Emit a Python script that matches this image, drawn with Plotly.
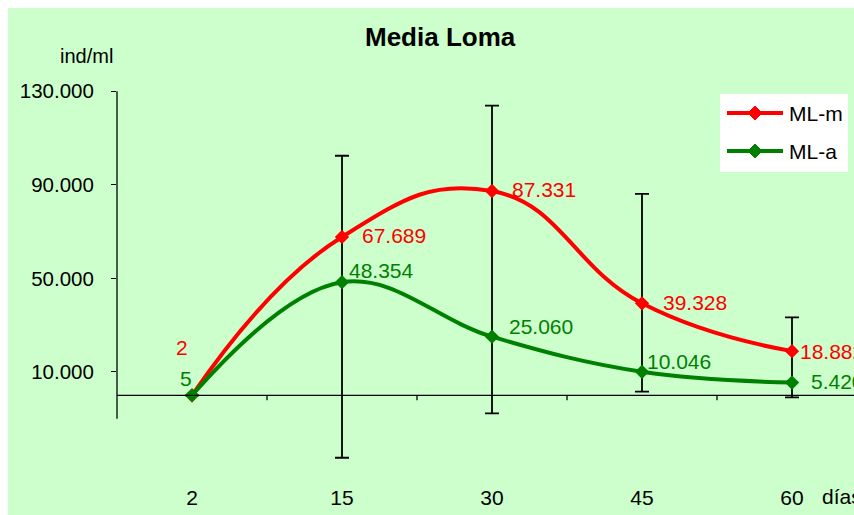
import plotly.graph_objects as go

# ---------------- data ----------------
dias = ["2", "15", "30", "45", "60"]
ml_m = [2, 67689, 87331, 39328, 18882]
ml_a = [5, 48354, 25060, 10046, 5420]
ml_m_labels = ["2", "67.689", "87.331", "39.328", "18.882"]
ml_a_labels = ["5", "48.354", "25.060", "10.046", "5.420"]
# error bar extents (top / bottom values)
err_top = [None, 102400, 123800, 86100, 33350]
err_bottom = [None, -26700, -7700, 1540, -850]
y_tickvals = [10000, 50000, 90000, 130000]
y_ticktext = ["10.000", "50.000", "90.000", "130.000"]

# ---------------- style / layout ----------------
OFF = 8                                  # page body margin
W, H = 854 - OFF, 515 - OFF
L, R, T, B = 117 - OFF, W, 60 - OFF, 481 - OFF   # plot area (figure px)
BG = "#CCFFCC"
RED = "#FF0000"
GREEN = "#008000"
FONT = "Liberation Sans, Arial, sans-serif"
CAT_W = 150.0                           # px per category
YPX = 427.5                             # value per px
ZERO_PX = 395.3 - OFF

x_idx = list(range(len(dias)))
x_range = [-0.5, -0.5 + (R - L) / CAT_W]
y_range = [-(B - ZERO_PX) * YPX, (ZERO_PX - T) * YPX]


def px(xp):
    """page pixel x -> paper"""
    return (xp - OFF - L) / (R - L)


def py(yp):
    """page pixel y -> paper"""
    return (B - (yp - OFF)) / (B - T)


plus = [0 if t is None else t - v for t, v in zip(err_top, ml_m)]
minus = [0 if b is None else v - b for b, v in zip(err_bottom, ml_m)]

fig = go.Figure()
fig.add_trace(go.Scatter(
    x=x_idx, y=ml_m, mode="lines+markers", name="ML-m",
    line=dict(color=RED, width=4, shape="spline", smoothing=1.3),
    marker=dict(symbol="diamond", size=11, color=RED),
    error_y=dict(type="data", symmetric=False, array=plus, arrayminus=minus,
                 color="black", thickness=1.8, width=7),
    cliponaxis=False, hoverinfo="skip",
))
fig.add_trace(go.Scatter(
    x=x_idx, y=ml_a, mode="lines+markers", name="ML-a",
    line=dict(color=GREEN, width=4, shape="spline", smoothing=1.1),
    marker=dict(symbol="diamond", size=11, color=GREEN),
    cliponaxis=False, hoverinfo="skip",
))

shapes = []
ann = []

# axes lines
shapes.append(dict(type="line", xref="paper", yref="y", x0=0, x1=0,
                   y0=-10000, y1=130000, line=dict(color="black", width=1.3)))
shapes.append(dict(type="line", xref="paper", yref="y", x0=0, x1=1,
                   y0=0, y1=0, line=dict(color="black", width=1.3)))
# category boundary ticks on x axis (pointing down, ~5px)
for i in range(len(dias) - 1):
    shapes.append(dict(type="line", xref="x", yref="y", x0=i + 0.5, x1=i + 0.5,
                       y0=0, y1=-5 * YPX, line=dict(color="black", width=1.3)))

# data labels
LF = 21
m_off = [(-10, 48, "center"), (18, 1, "left"), (18, 2, "left"), (19, 1, "left"), (6, 0, "left")]
a_off = [(-6, 17, "center"), (5, 12, "left"), (15, 10, "left"), (3, 10, "left"), (17, 1, "left")]
for i, (v, t) in enumerate(zip(ml_m, ml_m_labels)):
    dx, dy, xa = m_off[i]
    ann.append(dict(x=x_idx[i], y=v, xref="x", yref="y", text=t, showarrow=False,
                    xanchor=xa, yanchor="middle", xshift=dx, yshift=dy,
                    font=dict(color=RED, size=LF, family=FONT)))
for i, (v, t) in enumerate(zip(ml_a, ml_a_labels)):
    dx, dy, xa = a_off[i]
    ann.append(dict(x=x_idx[i], y=v, xref="x", yref="y", text=t, showarrow=False,
                    xanchor=xa, yanchor="middle", xshift=dx, yshift=dy,
                    font=dict(color=GREEN, size=LF, family=FONT)))

# title, unit, x-axis label
ann.append(dict(x=px(440.5), y=py(37), xref="paper", yref="paper", text="<b>Media Loma</b>",
                showarrow=False, xanchor="center", yanchor="middle",
                font=dict(size=26, color="black", family=FONT)))
ann.append(dict(x=px(58), y=py(56), xref="paper", yref="paper", text="ind/ml",
                showarrow=False, xanchor="left", yanchor="middle",
                font=dict(size=20, color="black", family=FONT)))
ann.append(dict(x=px(820), y=py(497), xref="paper", yref="paper", text="días",
                showarrow=False, xanchor="left", yanchor="middle",
                font=dict(size=LF, color="black", family=FONT)))

# custom legend
shapes.append(dict(type="rect", xref="paper", yref="paper",
                   x0=px(720), x1=px(848), y0=py(172), y1=py(94),
                   fillcolor="white", line=dict(width=0), layer="above"))
for name, col, yy in (("ML-m", RED, 113), ("ML-a", GREEN, 151)):
    shapes.append(dict(type="line", xref="paper", yref="paper",
                       x0=px(727), x1=px(783), y0=py(yy), y1=py(yy),
                       line=dict(color=col, width=4), layer="above"))
    cx, hw, hh = 755, 7, 7
    path = "M {} {} L {} {} L {} {} L {} {} Z".format(
        px(cx - hw), py(yy), px(cx), py(yy - hh), px(cx + hw), py(yy), px(cx), py(yy + hh))
    shapes.append(dict(type="path", xref="paper", yref="paper", path=path,
                       fillcolor=col, line=dict(color=col, width=1), layer="above"))
    ann.append(dict(x=px(787), y=py(yy), xref="paper", yref="paper", text=name,
                    showarrow=False, xanchor="left", yanchor="middle",
                    font=dict(size=LF, color="black", family=FONT)))

fig.update_layout(
    width=W, height=H,
    margin=dict(l=L, r=W - R, t=T, b=H - B),
    paper_bgcolor=BG, plot_bgcolor=BG,
    showlegend=False,
    font=dict(family=FONT, size=LF, color="black"),
    xaxis=dict(range=x_range, tickvals=x_idx, ticktext=dias, showgrid=False,
               zeroline=False, showline=False, ticks="", ticklabelstandoff=2,
               tickfont=dict(size=LF)),
    yaxis=dict(range=y_range, tickvals=y_tickvals, ticktext=y_ticktext,
               showgrid=False, zeroline=False, showline=False,
               ticks="outside", ticklen=5, tickcolor="black", tickwidth=1.3,
               ticklabelstandoff=13, tickfont=dict(size=20.5)),
    shapes=shapes, annotations=ann,
)

fig.write_html(
    "out.html",
    config={"displayModeBar": False},
    post_script="document.body.style.margin='8px 0 0 8px';"
                "document.documentElement.style.overflow='hidden';",
)
